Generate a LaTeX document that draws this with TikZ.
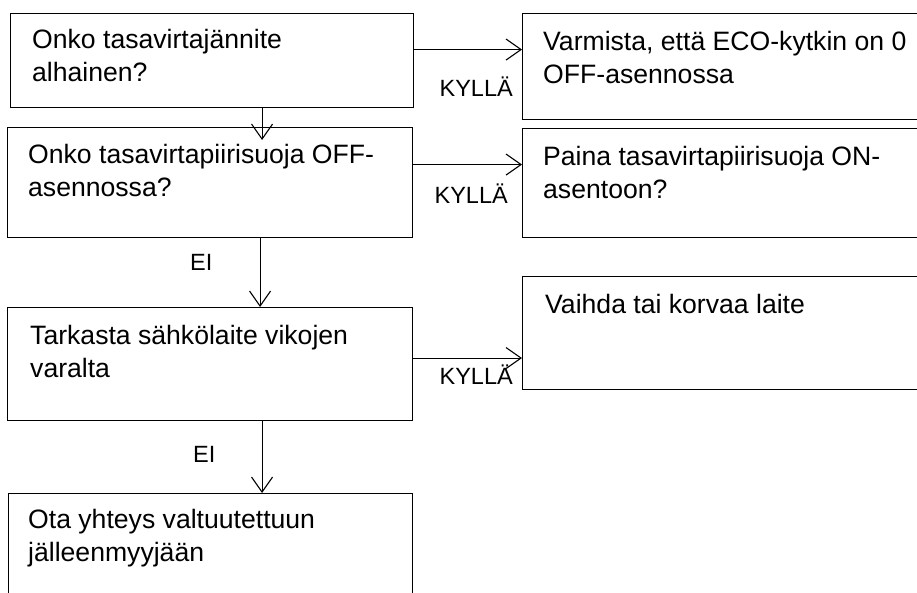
\documentclass[tikz,border=0pt]{standalone}
\usepackage{fontspec}
\setmainfont{Liberation Sans}
\usepackage{tikz}
\usetikzlibrary{arrows.meta}
\tikzset{
  box/.style={draw, line width=1.1pt, anchor=north west, inner sep=0pt},
  txt/.style={anchor=base west, align=left, inner sep=0pt, font=\fontsize{26.6}{33}\selectfont},
  lbl/.style={inner sep=0pt, font=\fontsize{23.5}{28}\selectfont},
  arr/.style={line width=1.1pt, -{Straight Barb[length=15pt, width=21pt, line width=1.1pt]}}
}

\begin{document}
\begin{tikzpicture}[x=1pt, y=-1pt]
\useasboundingbox (0,0) rectangle (917,592);
% left column
\node[box, minimum width=403, minimum height=94] (q1) at (10,13) {};
\node[box, minimum width=405, minimum height=110] (q2) at (7,127) {};
\node[box, minimum width=405, minimum height=113] (q3) at (7,307) {};
\node[box, minimum width=404, minimum height=101] (q4) at (8,493) {};
% right column
\node[box, minimum width=420, minimum height=106] (a1) at (522,13) {};
\node[box, minimum width=420, minimum height=109] (a2) at (522,128) {};
\node[box, minimum width=420, minimum height=113] (a3) at (522,276) {};
% texts (base = last line)
\node[txt] (q1t) at ([shift={(22pt,-68pt)}]q1.north west) {Onko tasavirtajännite\\alhainen?};
\node[txt] (q2t) at ([shift={(21pt,-69pt)}]q2.north west) {Onko tasavirtapiirisuoja OFF-\\asennossa?};
\node[txt] (q3t) at ([shift={(23pt,-70pt)}]q3.north west) {Tarkasta sähkölaite vikojen\\varalta};
\node[txt] (q4t) at ([shift={(20pt,-68pt)}]q4.north west) {Ota yhteys valtuutettuun\\jälleenmyyjään};
\node[txt] (a1t) at ([shift={(21pt,-70pt)}]a1.north west) {Varmista, että ECO-kytkin on 0\\OFF-asennossa};
\node[txt] (a2t) at ([shift={(21pt,-70pt)}]a2.north west) {Paina tasavirtapiirisuoja ON-\\asentoon?};
\node[txt] (a3t) at ([shift={(23pt,-37pt)}]a3.north west) {Vaihda tai korvaa laite};
% arrows
\draw[arr] ([xshift=50pt]q1.south) -- ([xshift=52pt,yshift=-13pt]q2.north);
\draw[arr] ([xshift=50pt]q2.south) -- ([xshift=50pt]q3.north);
\draw[arr] ([xshift=52pt]q3.south) -- ([xshift=52pt]q3.south |- q4.north);
\draw[arr] ([yshift=11pt]q1.east) -- ([yshift=11pt]q1.east -| a1.west);
\draw[arr] ([yshift=18pt]q2.east) -- ([yshift=18pt]q2.east -| a2.west);
\draw[arr] ([yshift=6pt]q3.east) -- ([yshift=6pt]q3.east -| a3.west);
% labels
\node[lbl, anchor=base east] (y1) at (513,96) {KYLLÄ};
\node[lbl, anchor=base east] (y2) at (508,203) {KYLLÄ};
\node[lbl, anchor=base east] (y3) at (513,384) {KYLLÄ};
\node[lbl, anchor=base west] (n1) at (190,270) {EI};
\node[lbl, anchor=base west] (n2) at (193,462) {EI};
\end{tikzpicture}
\end{document}
